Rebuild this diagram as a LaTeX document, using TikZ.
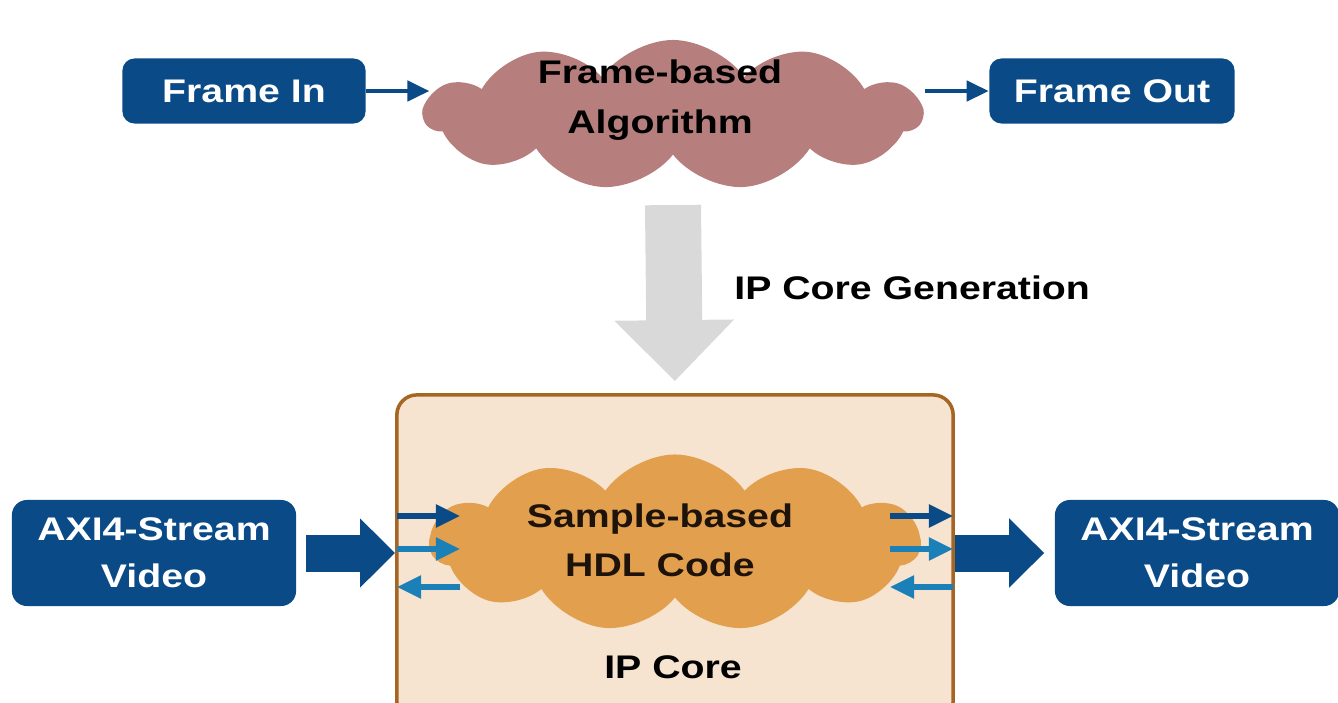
\documentclass[tikz,border=0pt]{standalone}
\usepackage{fontspec}
\setmainfont{Liberation Sans}[FakeStretch=1.2]
\usetikzlibrary{positioning,arrows.meta,shapes.symbols}

\definecolor{matblue}{RGB}{10,74,135}
\definecolor{portlt}{RGB}{28,128,184}
\definecolor{algorose}{RGB}{182,126,125}
\definecolor{hdlorange}{RGB}{226,160,78}
\definecolor{corefill}{RGB}{246,228,208}
\definecolor{coreline}{RGB}{165,101,35}
\definecolor{gengrey}{RGB}{217,217,217}

\begin{document}
\begin{tikzpicture}[
      x=0.01cm, y=-0.01cm,
      every node/.style={font=\fontsize{9.3}{13.4}\selectfont\bfseries},
      io/.style={fill=matblue, text=white, rounded corners=1.2mm, align=center, inner sep=0pt},
      blob/.style={cloud, cloud puffs=11, cloud puff arc=110, aspect=3, inner sep=0pt},
      blobtxt/.style={align=center, font=\fontsize{9.3}{14}\selectfont\bfseries},
      corebox/.style={draw=coreline, line width=1pt, fill=corefill, rounded corners=2mm, minimum width=5.56cm, minimum height=3.26cm},
      arrow/.style={-{Triangle[length=2.2mm,width=2mm]}, line width=1.3pt, matblue},
      port/.style={-{Triangle[length=2.4mm,width=2.2mm]}, line width=1.5pt},
      bigarrow/.style={-{Triangle[length=0.35cm,width=0.67cm]}, line width=0.37cm, matblue},
      genarrow/.style={-{Triangle[length=0.61cm,width=1.16cm]}, line width=0.56cm, gengrey},
    ]
    \useasboundingbox (0,0) rectangle (1338,702);

    % top row
    \node[io, minimum width=2.43cm, minimum height=0.65cm] (fin) at (244,91) {Frame In};
    \node[io, minimum width=2.45cm, minimum height=0.65cm] (fout) at (1112,91) {Frame Out};
    \node[blob, fill=algorose, minimum width=4.97cm, minimum height=1.5cm] (algo) at (673,115) {};
    \node[blobtxt] (algotxt) at (660,100) {Frame-based\\Algorithm};

    \draw[arrow, shorten >=-0.08cm] (fin) -- (fin -| algo.west);
    \draw[arrow] (fout -| algo.east) -- (fout);

    % ip core
    \node[corebox] (core) at (675,558) {};
    \node[blob, fill=hdlorange, minimum width=4.9cm, minimum height=1.77cm] (hdl) at (675,543) {};
    \node[blobtxt, text=black!85!brown] (hdltxt) at (660,540) {Sample-based\\HDL Code};
    \node (corelbl) at (673,667) {IP Core};

    \coordinate (gentop) at (673,205);
    \draw[genarrow, shorten >=0.12cm] (gentop) -- (core.north);
    \node[anchor=west] (genlbl) at (722,288) {IP Core Generation};

    % video streams
    \node[io, minimum width=2.84cm, minimum height=1.06cm, rounded corners=1.5mm] (axiL) at (154,553) {AXI4-Stream\\Video};
    \node[io, minimum width=2.84cm, minimum height=1.06cm, rounded corners=1.5mm] (axiR) at (1197,553) {AXI4-Stream\\Video};

    \draw[bigarrow, shorten <=0.09cm] (axiL) -- (axiL -| core.west);
    \draw[bigarrow, shorten >=0.1cm] (axiR -| core.east) -- (axiR);

    % ports
    \coordinate (pl1) at (397,516);
    \coordinate (pl2) at (397,549);
    \coordinate (pl3) at (397,587);
    \coordinate (pr1) at (953,516);
    \coordinate (pr2) at (953,549);
    \coordinate (pr3) at (953,587);

    \draw[port, matblue] (pl1) -- ++(63,0);
    \draw[port, portlt] (pl2) -- ++(63,0);
    \draw[port, portlt] (pl3) ++(63,0) -- (pl3);
    \draw[port, matblue] (pr1) ++(-63,0) -- (pr1);
    \draw[port, portlt] (pr2) ++(-63,0) -- (pr2);
    \draw[port, portlt] (pr3) -- ++(-63,0);
  \end{tikzpicture}
\end{document}
